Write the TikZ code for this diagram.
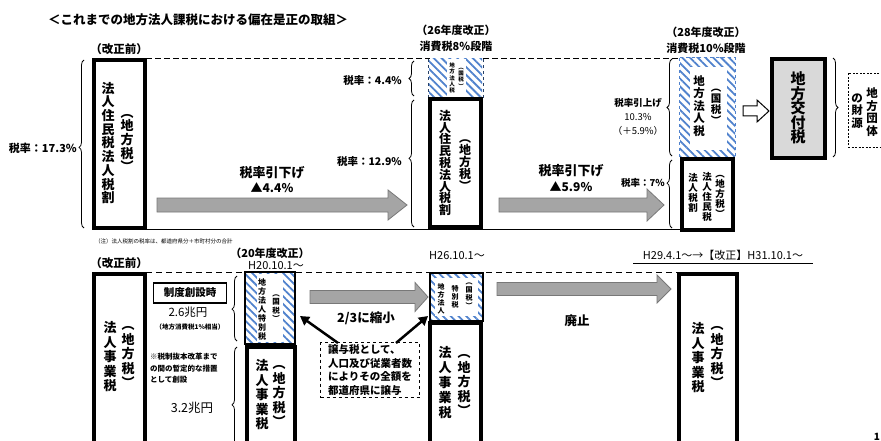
\documentclass[tikz,border=0pt]{standalone}
\usepackage{fontspec}
\setmainfont{Noto Sans CJK JP}
\usetikzlibrary{fit,patterns.meta,decorations.pathreplacing,arrows.meta}
\definecolor{hatch}{RGB}{80,130,205}
\definecolor{garrowfill}{RGB}{165,165,165}
\definecolor{garrowdraw}{RGB}{120,120,120}
\definecolor{kofu}{RGB}{217,217,217}
\newcommand\tate[2]{\vbox{\baselineskip=#1\lineskiplimit=-100pt\lineskip=0pt\tateloop#2\relax}}
\def\tateloop#1{\ifx\relax#1\else\hbox to 1em{\hss#1\hss}\expandafter\tateloop\fi}
\newcommand\garr[6]{\draw[garrow] (#1,#4-#5) -- (#2,#4-#5) -- (#2,#4-#6) -- (#3,#4) -- (#2,#4+#6) -- (#2,#4+#5) -- (#1,#4+#5) -- cycle;}
\newcommand\fs[1]{\fontsize{#1}{#1}\selectfont}
\begin{document}
\begin{tikzpicture}[x=1pt,y=-1pt,
  heavybox/.style={draw, line width=4.5pt, inner sep=0pt, fill=white},
  hatchfill/.style={inner sep=0pt, pattern={Lines[angle=-45,distance=5.5pt,line width=1.8pt]}, pattern color=hatch},
  whitefill/.style={inner sep=0pt, fill=white},
  vt/.style={inner sep=0pt, font=\bfseries\fs{13}},
  lbl/.style={inner sep=0pt, font=\bfseries\fs{11}},
  rate/.style={inner sep=0pt, font=\bfseries\fs{10.5}},
  brc/.style={decorate, decoration={brace, amplitude=5pt, aspect=#1}, line width=0.8pt},
  brc/.default=0.5,
  garrow/.style={fill=garrowfill, draw=garrowdraw, line width=0.8pt},
  topdash/.style={dash pattern=on 6pt off 3pt, line width=0.8pt},
  botdash/.style={dash pattern=on 6pt off 4pt, line width=0.9pt},
  blkarrow/.style={-{Triangle[length=9pt,width=10pt]}, line width=2.5pt},
]
\useasboundingbox (0,0) rectangle (881,441);
\clip (0,0) rectangle (881,441);
\fill[white] (0,0) rectangle (881,441);

% ---------- title
\node[inner sep=0, anchor=west, font=\bfseries\fs{12.5}] (title) at (48,20) {＜これまでの地方法人課税における偏在是正の取組＞};

% ---------- top section lines
\draw[topdash] (146,58) -- (430,58);
\draw[topdash] (483,58) -- (680,58);
\draw[line width=0.8pt] (146,229) -- (680,229);

% ---------- top labels
\node[lbl, font=\bfseries\fs{11.5}] (kz1) at (119,49) {（改正前）};
\node[lbl] (k26a) at (456,30) {（26年度改正）};
\node[lbl] (k26b) at (456,46) {消費税8\%段階};
\node[lbl] (k28a) at (706,32) {（28年度改正）};
\node[lbl] (k28b) at (706,48) {消費税10\%段階};

% ---------- box 1
\node[heavybox, fit={(94,60)(145,228)}] (b1) {};
\node[vt] (b1t) at (108,143) {\tate{13.7pt}{法人住民税法人税割}};
\node[vt] (b1p) at (127,143) {\tate{13.7pt}{︵地方税︶}};
\draw[brc=0.48] (84,228) -- (84,60);
\node[rate, font=\bfseries\fs{11}, anchor=east] (r1) at (77,148) {税率：17.3\%};

% ---------- gray arrows top
\garr{157}{388}{407}{205}{7}{15}
\node[lbl, font=\bfseries\fs{13}] (a1a) at (272,173) {税率引下げ};
\node[lbl, font=\bfseries\fs{12}] (a1b) at (272,188) {▲4.4\%};
\garr{499}{647}{664}{205}{7}{16}
\node[lbl, font=\bfseries\fs{13}] (a2a) at (571,171) {税率引下げ};
\node[lbl, font=\bfseries\fs{12}] (a2b) at (571,187) {▲5.9\%};

% ---------- 26 small hatched box
\node[hatchfill, fit={(429,59)(482,97)}] (h26) {};
\node[whitefill, fit={(447,59)(466,97)}] (h26w) {};
\draw[dashed, line width=0.6pt, hatch!50!black] (h26.south west) -- (h26.north west) (h26.south east) -- (h26.north east);
\node[inner sep=0, font=\bfseries\fs{5.5}] (h26t) at (452,78) {\tate{6.3pt}{地方法人税}};
\node[inner sep=0, font=\bfseries\fs{5.5}] (h26p) at (461,78) {\tate{6.3pt}{︵国税︶}};
\draw[brc] (414,96) -- (414,61);
\node[rate, anchor=east] (r2) at (402,81) {税率：4.4\%};

% ---------- box 2
\node[heavybox, fit={(430,99)(481,227)}] (b2) {};
\node[vt, font=\bfseries\fs{12}] (b2t) at (445,163) {\tate{11.8pt}{法人住民税法人税割}};
\node[vt, font=\bfseries\fs{12}] (b2p) at (465,165) {\tate{12pt}{︵地方税︶}};
\draw[brc=0.54] (414,227) -- (414,100);
\node[rate, anchor=east] (r3) at (402,162) {税率：12.9\%};

% ---------- 28 hatched box
\node[hatchfill, fit={(680,58)(735,157)}] (h28) {};
\node[whitefill, fit={(690,67)(727,150)}] (h28w) {};
\draw[dashed, line width=0.8pt, hatch] (h28.north west) rectangle (h28.south east);
\node[vt, font=\bfseries\fs{11.5}] (h28t) at (699,106) {\tate{12.5pt}{地方法人税}};
\node[vt, font=\bfseries\fs{10.5}] (h28p) at (716,107) {\tate{11pt}{︵国税︶}};
\draw[brc] (672,156) -- (672,59);
\node[rate, font=\bfseries\fs{9.5}] (r4a) at (638,103) {税率引上げ};
\node[rate, font=\fs{9.5}] (r4b) at (638,117) {10.3\%};
\node[rate, font=\fs{9.5}] (r4c) at (638,131) {（＋5.9\%）};

% ---------- box 3
\node[heavybox, fit={(682,159)(733,230)}] (b3) {};
\node[vt, font=\bfseries\fs{9.5}] (b3a) at (693,193) {\tate{10pt}{法人税割}};
\node[vt, font=\bfseries\fs{9.5}] (b3b) at (707,197) {\tate{10pt}{法人住民税}};
\node[vt, font=\bfseries\fs{9.5}] (b3c) at (720,196) {\tate{10pt}{︵地方税︶}};
\draw[brc=0.66] (672,228) -- (672,160);
\node[rate, font=\bfseries\fs{9.5}, anchor=east] (r5) at (665,183) {税率：7\%};

% ---------- hollow arrow and kofu
\draw[fill=white, line width=1pt] (743,106) -- (757,106) -- (757,100) -- (769,111) -- (757,122) -- (757,116) -- (743,116) -- cycle;
\node[heavybox, fill=kofu, fit={(772,59)(825,158)}] (kofu) {};
\node[vt, font=\bfseries\fs{15}] (kofut) at (798,108) {\tate{14.5pt}{地方交付税}};
\draw[brc] (833,58) -- (833,157);
\node[inner sep=0, fit={(848,73)(900,147)}, draw, dash pattern=on 2pt off 1.5pt, line width=0.8pt] (zaigen) {};
\node[vt, font=\bfseries\fs{11.5}] (zg1) at (872,112) {\tate{12.5pt}{地方団体}};
\node[vt, font=\bfseries\fs{11.5}] (zg2) at (857,111) {\tate{12.5pt}{の財源}};

% ---------- footnote
\node[inner sep=0, anchor=west, font=\fs{5.5}] (note) at (95,241) {（注）法人税割の税率は、都道府県分＋市町村分の合計};

% ---------- bottom section
\draw[botdash] (146,272) -- (680,272);
\node[lbl, font=\bfseries\fs{11.5}] (kz2) at (119,263) {（改正前）};
\node[lbl] (k20a) at (270,253) {（20年度改正）};
\node[lbl, font=\fs{11}] (k20b) at (276,266) {H20.10.1～};
\node[lbl, font=\fs{11}] (k26c) at (457,256) {H26.10.1～};
\node[lbl, font=\fs{11}] (k29) at (723,255) {H29.4.1～→【改正】H31.10.1～};
\draw[line width=0.7pt] (633,263.5) -- (813,263.5);

% box A
\node[heavybox, fit={(94,274)(145,460)}] (bA) {};
\node[vt] (bAt) at (110,357) {\tate{14.5pt}{法人事業税}};
\node[vt] (bAp) at (128,357) {\tate{14.5pt}{︵地方税︶}};

% box B hatched
\node[hatchfill, fit={(245,272)(295,344)}] (bB) {};
\node[whitefill, fit={(257,274)(283,342)}] (bBw) {};
\draw[line width=1.5pt] (bB.north west) rectangle (bB.south east);
\node[vt, font=\bfseries\fs{8}] (bBt) at (262,309) {\tate{9pt}{地方法人特別税}};
\node[vt, font=\bfseries\fs{7.5}] (bBp) at (276,308) {\tate{8.5pt}{︵国税︶}};
\draw[brc=0.49] (237,341) -- (237,276);
\node[draw, line width=1.2pt, inner sep=0, minimum width=73pt, minimum height=20pt, font=\bfseries\fs{10.5}] (sousetsu) at (190,293) {制度創設時};
\node[lbl, font=\fs{11.5}] (c26) at (188,312) {2.6兆円};
\node[inner sep=0, font=\bfseries\fs{6.5}] (c26s) at (190,327) {（地方消費税1\%相当）};

% box C
\node[heavybox, fit={(247,347)(295,460)}] (bC) {};
\node[vt] (bCt) at (262,395) {\tate{14.5pt}{法人事業税}};
\node[vt] (bCp) at (279,396) {\tate{14.5pt}{︵地方税︶}};
\draw[brc=0.51] (237,465) -- (237,347);
\node[inner sep=0, anchor=north west, align=left, font=\bfseries\fontsize{7.5}{11.5}\selectfont] (zantei) at (150,353) {※税制抜本改革まで\\の間の暫定的な措置\\として創設};
\node[lbl, font=\fs{12.5}] (c32) at (192,408) {3.2兆円};

% arrow 3
\garr{310}{415}{428}{297}{6.5}{14.5}
\node[lbl, font=\bfseries\fs{12.5}] (shuku) at (366,318) {2/3に縮小};

% dashed jyoyo box
\node[draw, dashed, line width=0.8pt, minimum width=99pt, minimum height=55pt, inner sep=2pt, align=left, font=\bfseries\fontsize{10.5}{13.5}\selectfont] (jyoyo) at (370,370) {譲与税として、\\人口及び従業者数\\によりその全額を\\都道府県に譲与};

% box D hatched
\node[hatchfill, fit={(430,273)(483,321)}] (bD) {};
\node[whitefill, fit={(435,278)(478,316)}] (bDw) {};
\draw[line width=2.5pt] (bD.north west) rectangle (bD.south east);
\node[vt, font=\bfseries\fs{7}] (bDa) at (441,299) {\tate{8pt}{地方法人}};
\node[vt, font=\bfseries\fs{7}] (bDb) at (455,297) {\tate{8pt}{特別税}};
\node[vt, font=\bfseries\fs{7}] (bDc) at (469,296) {\tate{8pt}{︵国税︶}};

% box E
\node[heavybox, fit={(430,323)(481,460)}] (bE) {};
\node[vt] (bEt) at (445,383) {\tate{15pt}{法人事業税}};
\node[vt] (bEp) at (464,385) {\tate{14.5pt}{︵地方税︶}};

% black arrows
\coordinate (j1) at (338,343);
\coordinate (j2) at (396,343);
\coordinate (tB) at (300,316);
\coordinate (tD) at (428,316);
\draw[blkarrow] (j1) -- (tB);
\draw[blkarrow] (j2) -- (tD);

% arrow 4
\garr{497}{657}{671}{289}{6.5}{14}
\node[lbl, font=\bfseries\fs{12.5}] (haishi) at (577,321) {廃止};

% box F
\node[heavybox, fit={(679,274)(737,460)}] (bF) {};
\node[vt] (bFt) at (698,358) {\tate{14.5pt}{法人事業税}};
\node[vt] (bFp) at (717,357) {\tate{14.5pt}{︵地方税︶}};

\node[inner sep=0, font=\bfseries\fs{10}] (pg) at (877,437) {1};
\end{tikzpicture}
\end{document}
